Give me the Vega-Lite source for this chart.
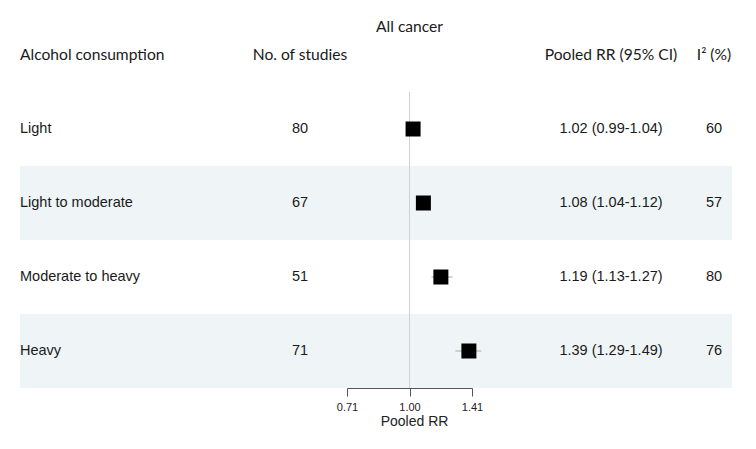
{
  "$schema": "https://vega.github.io/schema/vega-lite/v6.json",
  "width": 712,
  "height": 370,
  "autosize": {"type": "none"},
  "padding": {"left": 20, "top": 18, "right": 24, "bottom": 61},
  "background": "white",
  "config": {"view": {"stroke": null}},
  "datasets": {
    "rows": [
      {"group": "Light", "studies": "80", "rr": 1.02, "lo": 0.99, "hi": 1.04, "ci": "1.02 (0.99-1.04)", "i2": "60"},
      {"group": "Light to moderate", "studies": "67", "rr": 1.08, "lo": 1.04, "hi": 1.12, "ci": "1.08 (1.04-1.12)", "i2": "57"},
      {"group": "Moderate to heavy", "studies": "51", "rr": 1.19, "lo": 1.13, "hi": 1.27, "ci": "1.19 (1.13-1.27)", "i2": "80"},
      {"group": "Heavy", "studies": "71", "rr": 1.39, "lo": 1.29, "hi": 1.49, "ci": "1.39 (1.29-1.49)", "i2": "76"}
    ],
    "headers": [
      {"group": "hdr", "col": "group", "label": "Alcohol consumption"},
      {"group": "hdr", "col": "studies", "label": "No. of studies"},
      {"group": "hdr", "col": "ci", "label": "Pooled RR (95% CI)"},
      {"group": "hdr", "col": "i2", "label": "I² (%)"},
      {"group": "hdr", "col": "forest", "label": "All cancer"}
    ],
    "bands": [{"group": "Light to moderate"}, {"group": "Heavy"}]
  },
  "encoding": {
    "y": {
      "field": "group",
      "type": "nominal",
      "scale": {
        "domain": ["hdr", "Light", "Light to moderate", "Moderate to heavy", "Heavy"],
        "paddingInner": 0,
        "paddingOuter": 0
      },
      "axis": null
    }
  },
  "layer": [
    {
      "data": {"name": "bands"},
      "mark": {"type": "rect", "color": "#eff5f6"},
      "encoding": {}
    },
    {
      "layer": [
        {
          "data": {"name": "rows"},
          "mark": {"type": "text", "align": "left", "font": "Liberation Sans", "fontSize": 14.5, "color": "#1a1a1a"},
          "encoding": {
            "x": {"datum": "group", "type": "nominal", "scale": {"domain": ["group", "studies"], "range": [0, 280], "padding": 0}, "axis": null},
            "text": {"field": "group"}
          }
        },
        {
          "data": {"name": "rows"},
          "mark": {"type": "text", "align": "center", "font": "Liberation Sans", "fontSize": 14.5, "color": "#1a1a1a"},
          "encoding": {
            "x": {"datum": "studies", "type": "nominal", "axis": null},
            "text": {"field": "studies"}
          }
        },
        {
          "data": {"name": "headers"},
          "transform": [{"filter": "datum.col === 'group'"}],
          "mark": {"type": "text", "align": "left", "font": "Lato", "fontSize": 15.6, "color": "#1a1a1a"},
          "encoding": {
            "x": {"field": "col", "type": "nominal", "axis": null},
            "text": {"field": "label"}
          }
        },
        {
          "data": {"name": "headers"},
          "transform": [{"filter": "datum.col === 'studies'"}],
          "mark": {"type": "text", "align": "center", "font": "Lato", "fontSize": 15.6, "color": "#1a1a1a"},
          "encoding": {
            "x": {"field": "col", "type": "nominal", "axis": null},
            "text": {"field": "label"}
          }
        }
      ]
    },
    {
      "layer": [
        {
          "data": {"name": "rows"},
          "mark": {"type": "text", "align": "center", "font": "Liberation Sans", "fontSize": 14.5, "color": "#1a1a1a"},
          "encoding": {
            "x": {"datum": "ci", "type": "nominal", "scale": {"domain": ["ci", "i2"], "range": [591, 694], "padding": 0}, "axis": null},
            "text": {"field": "ci"}
          }
        },
        {
          "data": {"name": "rows"},
          "mark": {"type": "text", "align": "center", "font": "Liberation Sans", "fontSize": 14.5, "color": "#1a1a1a"},
          "encoding": {
            "x": {"datum": "i2", "type": "nominal", "axis": null},
            "text": {"field": "i2"}
          }
        },
        {
          "data": {"name": "headers"},
          "transform": [{"filter": "datum.col === 'ci' || datum.col === 'i2'"}],
          "mark": {"type": "text", "align": "center", "font": "Lato", "fontSize": 15.6, "color": "#1a1a1a"},
          "encoding": {
            "x": {"field": "col", "type": "nominal", "axis": null},
            "text": {"field": "label"}
          }
        }
      ]
    },
    {
      "layer": [
        {
          "data": {"name": "rows"},
          "mark": {"type": "tick", "orient": "vertical", "color": "#d0d0d0", "thickness": 1, "size": 74, "opacity": 1},
          "encoding": {
            "x": {
              "datum": 1,
              "type": "quantitative",
              "scale": {"type": "log", "base": 2, "domain": [0.7071, 1.4142], "range": [327, 452], "nice": false, "zero": false},
              "axis": {"values": [0.7071, 1, 1.4142], "format": ".2f", "title": "Pooled RR", "grid": false, "domainColor": "#555555", "tickColor": "#555555", "tickSize": 8, "labelFontSize": 11, "labelFont": "Liberation Sans", "labelColor": "#222222", "labelPadding": 5, "labelFlush": false, "labelOverlap": false, "titleFont": "Liberation Sans", "titleFontSize": 14, "titleFontWeight": "normal", "titleColor": "#222222", "titlePadding": 2, "titleX": 394}
            }
          }
        },
        {
          "data": {"name": "rows"},
          "mark": {"type": "rule", "color": "#aaaaaa", "strokeWidth": 1},
          "encoding": {
            "x": {"field": "lo", "type": "quantitative"},
            "x2": {"field": "hi"}
          }
        },
        {
          "data": {"name": "rows"},
          "mark": {"type": "point", "shape": "square", "filled": true, "color": "#000000", "opacity": 1, "size": 225},
          "encoding": {
            "x": {"field": "rr", "type": "quantitative"}
          }
        },
        {
          "data": {"name": "headers"},
          "transform": [{"filter": "datum.col === 'forest'"}],
          "mark": {"type": "text", "align": "center", "font": "Lato", "fontSize": 15.6, "color": "#1a1a1a", "dy": -28},
          "encoding": {
            "x": {"datum": 1, "type": "quantitative"},
            "text": {"field": "label"}
          }
        }
      ]
    }
  ],
  "resolve": {"scale": {"x": "independent"}, "axis": {"x": "independent"}}
}
